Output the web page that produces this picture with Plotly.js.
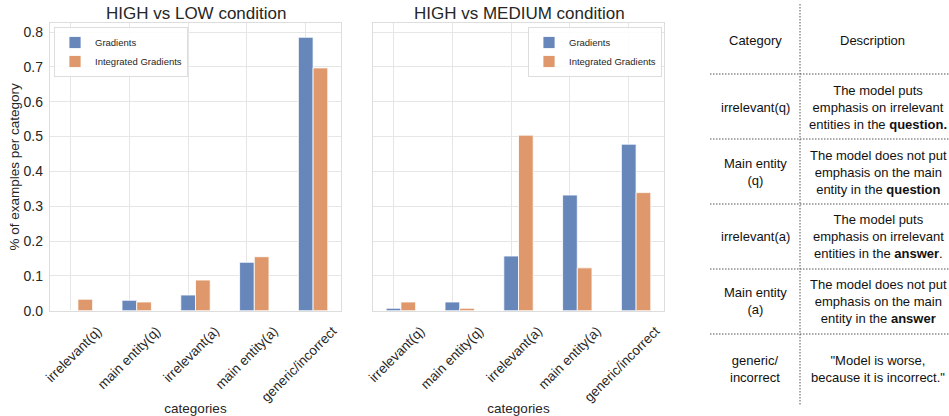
<!DOCTYPE html>
<html>
<head>
<meta charset="utf-8">
<script src="https://cdn.plot.ly/plotly-3.0.1.min.js"></script>
<style>html,body{margin:0;padding:0;background:#fff;}#chart{width:949px;height:416px;}</style>
</head>
<body>
<div id="chart"></div>
<script>
// ---- data ----
const categories = ['irrelevant(q)', 'main entity(q)', 'irrelevant(a)', 'main entity(a)', 'generic/incorrect'];
const seriesNames = ['Gradients', 'Integrated Gradients'];
const lowGradients = [0.0, 0.030, 0.045, 0.139, 0.785];
const lowIntegrated = [0.033, 0.025, 0.088, 0.155, 0.697];
const mediumGradients = [0.007, 0.025, 0.157, 0.332, 0.478];
const mediumIntegrated = [0.025, 0.007, 0.504, 0.123, 0.339];
const panelTitles = ['HIGH vs LOW condition', 'HIGH vs MEDIUM condition'];
const xTitle = 'categories';
const yTitle = '% of examples per category';
const tableHeader = ['Category', 'Description'];
const tableCategories = ['irrelevant(q)', 'Main entity<br>(q)', 'irrelevant(a)', 'Main entity<br>(a)', 'generic/<br>incorrect'];
const tableDescriptions = [
  'The model puts<br>emphasis on irrelevant<br>entities in the <b>question.</b>',
  'The model does not put<br>emphasis on the main<br>entity in the <b>question</b>',
  'The model puts<br>emphasis on irrelevant<br>entities in the <b>answer</b>.',
  'The model does not put<br>emphasis on the main<br>entity in the <b>answer</b>',
  '"Model is worse,<br>because it is incorrect."'
];

// ---- layout helpers ----
const W = 949, H = 416;
const px = x => x / W;
const py = y => 1 - y / H;
const FONT = '"Liberation Sans", Arial, Helvetica, sans-serif';
const BLUE = '#6787bb';
const ORANGE = '#de986b';
const TXT = '#262626';

function barTrace(y, name, color, xa, ya, legend, offset, show) {
  return {
    type: 'bar', x: categories, y: y, name: name, xaxis: xa, yaxis: ya,
    legend: legend, showlegend: show,
    width: 0.25, offset: offset,
    marker: {color: color, line: {color: '#ffffff', width: 0.8}}
  };
}

const data = [
  barTrace(lowGradients, seriesNames[0], BLUE, 'x', 'y', 'legend', -0.125, true),
  barTrace(lowIntegrated, seriesNames[1], ORANGE, 'x', 'y', 'legend', 0.125, true),
  barTrace(mediumGradients, seriesNames[0], BLUE, 'x2', 'y2', 'legend2', -0.125, true),
  barTrace(mediumIntegrated, seriesNames[1], ORANGE, 'x2', 'y2', 'legend2', 0.125, true)
];

const yTop = 310.7, yTopFrame = 23;
const yDomain = [py(yTop), py(yTopFrame)];
const xRange = [-0.35, 4.6];
const yRange = [0, 0.826];

function xAxis(domain, anchor) {
  return {
    domain: domain, anchor: anchor, type: 'category', categoryorder: 'array', categoryarray: categories,
    range: xRange, showgrid: true, gridcolor: '#e6e6e6', gridwidth: 1,
    showline: true, mirror: true, linecolor: '#dddddd', linewidth: 1.2,
    ticks: '', tickangle: -45, ticklabelshift: 27, ticklabelstandoff: 6,
    tickfont: {size: 13.5, color: TXT, family: FONT},
    title: {text: xTitle, font: {size: 13.5, color: TXT, family: FONT}, standoff: 1},
    zeroline: false, fixedrange: true
  };
}
function yAxis(anchor, showLabels, withTitle) {
  const a = {
    domain: yDomain, anchor: anchor, range: yRange, dtick: 0.1, tick0: 0, tickformat: '.1f',
    showgrid: true, gridcolor: '#e6e6e6', gridwidth: 1,
    showline: true, mirror: true, linecolor: '#dddddd', linewidth: 1.2,
    ticks: '', showticklabels: showLabels, ticklabelstandoff: 3,
    tickfont: {size: 14, color: TXT, family: FONT}, zeroline: false, fixedrange: true
  };
  if (withTitle) a.title = {text: yTitle, font: {size: 13.5, color: TXT, family: FONT}, standoff: 0};
  return a;
}

const annotations = [];
annotations.push({xref: 'paper', yref: 'paper', x: px(195.5), y: py(13.5), xanchor: 'center', yanchor: 'middle',
  text: panelTitles[0], showarrow: false, font: {size: 17, color: TXT, family: FONT}});
annotations.push({xref: 'paper', yref: 'paper', x: px(519), y: py(13.5), xanchor: 'center', yanchor: 'middle',
  text: panelTitles[1], showarrow: false, font: {size: 17, color: TXT, family: FONT}});

// table text
const colCat = 755, colDesc = 878, colDescHead = 872;
const headerY = 41;
const rowCenters = [108, 172, 236, 301, 369];
const rowLines = [74, 139, 204, 269, 334];
annotations.push({xref: 'paper', yref: 'paper', x: px(colCat), y: py(headerY), xanchor: 'center', yanchor: 'middle',
  text: tableHeader[0], showarrow: false, font: {size: 13, color: '#111', family: FONT}});
annotations.push({xref: 'paper', yref: 'paper', x: px(colDescHead), y: py(headerY), xanchor: 'center', yanchor: 'middle',
  text: tableHeader[1], showarrow: false, font: {size: 13, color: '#111', family: FONT}});
tableCategories.forEach((t, i) => {
  annotations.push({xref: 'paper', yref: 'paper', x: px(colCat), y: py(rowCenters[i]), xanchor: 'center', yanchor: 'middle',
    text: t, showarrow: false, align: 'center', font: {size: 13, color: '#111', family: FONT}});
  annotations.push({xref: 'paper', yref: 'paper', x: px(colDesc), y: py(rowCenters[i]), xanchor: 'center', yanchor: 'middle',
    text: tableDescriptions[i], showarrow: false, align: 'center', font: {size: 13, color: '#111', family: FONT}});
});

const shapes = [];
const dotLine = {color: '#555555', width: 1, dash: '1.5px,1.5px'};
shapes.push({type: 'line', xref: 'paper', yref: 'paper', x0: px(800), x1: px(800), y0: py(4), y1: py(406), line: dotLine});
rowLines.forEach(y => {
  shapes.push({type: 'line', xref: 'paper', yref: 'paper', x0: px(710), x1: px(949), y0: py(y), y1: py(y), line: dotLine});
});

const legendCommon = {
  bgcolor: 'rgba(255,255,255,0.85)', bordercolor: '#dddddd', borderwidth: 1,
  font: {size: 9.5, color: TXT, family: FONT}, yanchor: 'top', tracegroupgap: 0, itemwidth: 30
};

const layout = {
  width: W, height: H,
  margin: {l: 0, r: 0, t: 0, b: 0},
  paper_bgcolor: '#ffffff', plot_bgcolor: '#ffffff',
  font: {family: FONT, color: TXT},
  barmode: 'overlay',
  xaxis: xAxis([px(50), px(341)], 'y'),
  yaxis: yAxis('x', true, true),
  xaxis2: xAxis([px(373), px(664)], 'y2'),
  yaxis2: yAxis('x2', false, false),
  legend: Object.assign({}, legendCommon, {x: px(54), y: py(27), xanchor: 'left'}),
  legend2: Object.assign({}, legendCommon, {x: px(662), y: py(27), xanchor: 'right'}),
  annotations: annotations,
  shapes: shapes
};

Plotly.newPlot('chart', data, layout, {displayModeBar: false, staticPlot: true});
</script>
</body>
</html>
